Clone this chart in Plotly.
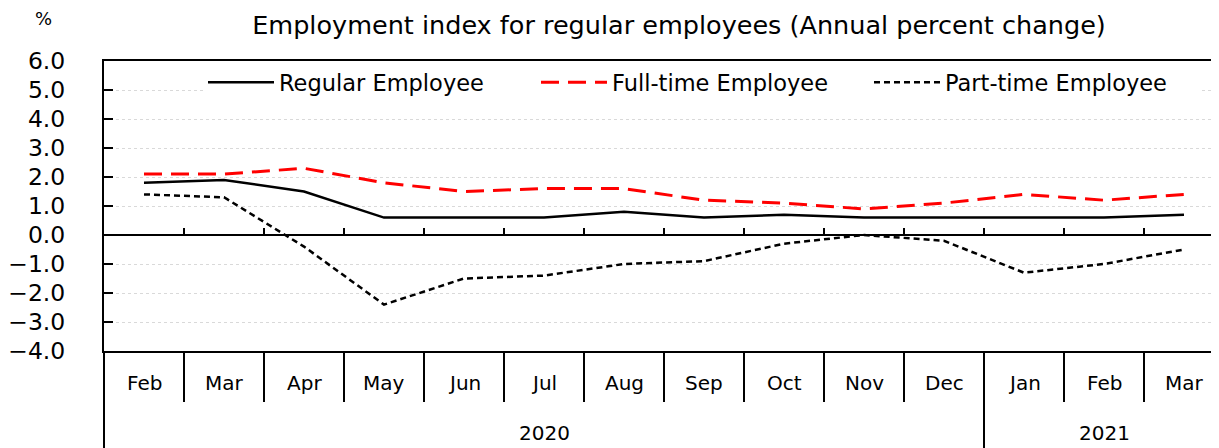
import plotly.graph_objects as go

months = ["Feb", "Mar", "Apr", "May", "Jun", "Jul", "Aug", "Sep", "Oct", "Nov", "Dec", "Jan", "Feb", "Mar"]
years = ["2020", "2021"]
year_spans = [(0, 10), (11, 13)]  # first/last month index of each year

regular = [1.8, 1.9, 1.5, 0.6, 0.6, 0.6, 0.8, 0.6, 0.7, 0.6, 0.6, 0.6, 0.6, 0.7]
full_time = [2.1, 2.1, 2.3, 1.8, 1.5, 1.6, 1.6, 1.2, 1.1, 0.9, 1.1, 1.4, 1.2, 1.4]
part_time = [1.4, 1.3, -0.4, -2.4, -1.5, -1.4, -1.0, -0.9, -0.3, 0.0, -0.2, -1.3, -1.0, -0.5]

y_ticks = [-4, -3, -2, -1, 0, 1, 2, 3, 4, 5, 6]

FONT = "DejaVu Sans"
OFF = 8  # page body margin
W, H = 1219 - OFF, 448 - OFF
ML, MT, MB = 104 - OFF, 61 - OFF, 97
PW, PH = W - ML, H - MT - MB
x = list(range(len(months)))

fig = go.Figure()
fig.add_trace(go.Scatter(x=x, y=regular, mode="lines", name="Regular Employee",
                         line=dict(color="black", width=2.5)))
fig.add_trace(go.Scatter(x=x, y=full_time, mode="lines", name="Full-time Employee",
                         line=dict(color="#ff0000", width=3, dash="18px,9px")))
fig.add_trace(go.Scatter(x=x, y=part_time, mode="lines", name="Part-time Employee",
                         line=dict(color="black", width=2.5, dash="6px,4px")))

shapes = []
n = len(months)
# boundary ticks on the zero line
for i in range(n - 1):
    shapes.append(dict(type="line", xref="x", x0=i + 0.5, x1=i + 0.5,
                       yref="y", ysizemode="pixel", yanchor=0, y0=0, y1=7,
                       line=dict(color="black", width=2)))
# month dividers below plot
year_breaks = [s[1] for s in year_spans[:-1]]
for i in range(n - 1):
    depth = -MB if i in year_breaks else -51
    shapes.append(dict(type="line", xref="x", x0=i + 0.5, x1=i + 0.5,
                       yref="paper", ysizemode="pixel", yanchor=0, y0=0, y1=depth,
                       line=dict(color="black", width=2)))
# left border extension
shapes.append(dict(type="line", xref="paper", x0=0, x1=0,
                   yref="paper", ysizemode="pixel", yanchor=0, y0=0, y1=-MB,
                   line=dict(color="black", width=2)))

annotations = []
for i, m in enumerate(months):
    annotations.append(dict(x=i, xref="x", y=0, yref="paper", yshift=-32,
                            text=m, showarrow=False, yanchor="middle",
                            font=dict(family=FONT, size=20, color="black")))
for yr, (a, b) in zip(years, year_spans):
    annotations.append(dict(x=(a + b) / 2, xref="x", y=0, yref="paper", yshift=-82,
                            text=yr, showarrow=False, yanchor="middle",
                            font=dict(family=FONT, size=20, color="black")))
annotations.append(dict(x=(43 - 104) / PW, xref="paper", y=1 + (61 - 18) / PH, yref="paper",
                        text="%", showarrow=False, xanchor="center", yanchor="middle",
                        font=dict(family=FONT, size=18, color="black")))

fig.update_layout(
    width=W, height=H,
    margin=dict(l=ML, r=0, t=MT, b=MB),
    paper_bgcolor="white", plot_bgcolor="white",
    font=dict(family=FONT, color="black"),
    title=dict(text="Employment index for regular employees (Annual percent change)",
               xref="container", x=(679 - OFF) / W, xanchor="center",
               yref="container", y=1 - (25 - OFF) / H, yanchor="middle",
               font=dict(family=FONT, size=25.5, color="black")),
    xaxis=dict(range=[-0.5, -0.5 + PW / 80], showticklabels=False, ticks="",
               showgrid=False, zeroline=False, showline=True, linecolor="black",
               linewidth=2, mirror=True, fixedrange=True),
    yaxis=dict(range=[-4, 6], tickvals=y_ticks, tickformat=".1f",
               tickfont=dict(family=FONT, size=23.5, color="black"),
               ticks="inside", ticklen=9, tickwidth=1.5, tickcolor="black",
               ticklabelstandoff=32,
               showline=True, linecolor="black", linewidth=2,
               showgrid=True, gridcolor="#d9d9d9", griddash="dot", gridwidth=1,
               zeroline=True, zerolinecolor="black", zerolinewidth=2),
    showlegend=True,
    legend=dict(orientation="h", x=(203 - 104) / PW, xanchor="left",
                y=1, yanchor="top", bgcolor="white",
                font=dict(family=FONT, size=22.5, color="black"),
                itemwidth=66, entrywidth=252, tracegroupgap=0),
    shapes=shapes,
    annotations=annotations,
)

fig.write_html("out.html")
